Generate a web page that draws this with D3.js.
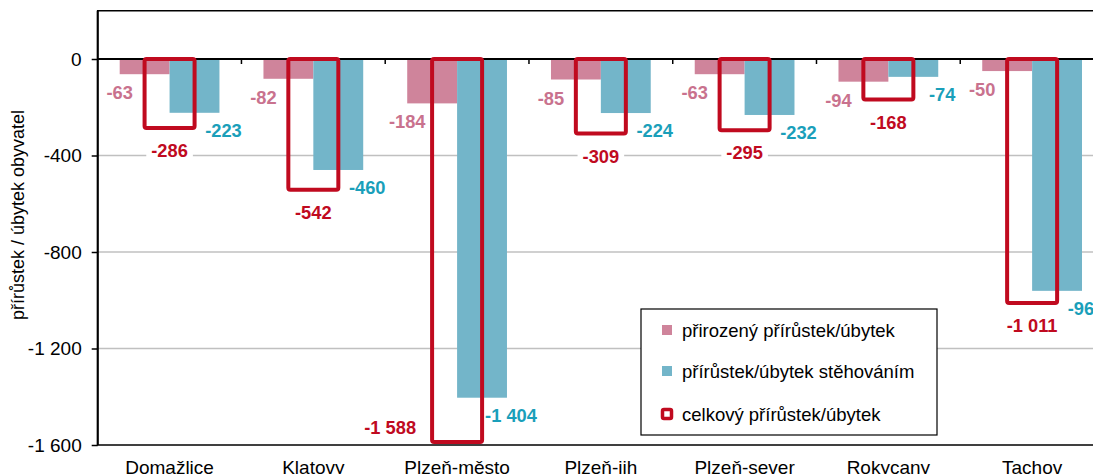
<!DOCTYPE html>
<html>
<head>
<meta charset="utf-8">
<script src="https://cdn.jsdelivr.net/npm/d3@7"></script>
<style>
  body { margin: 0; background: #fff; }
  svg { display: block; font-family: Arial, "Liberation Sans", sans-serif; }
</style>
</head>
<body>
<svg id="chart" width="1093" height="474"></svg>
<script>
var categories = ["Domažlice", "Klatovy", "Plzeň-město", "Plzeň-jih", "Plzeň-sever", "Rokycany", "Tachov"];
var natural = [-63, -82, -184, -85, -63, -94, -50];
var migration = [-223, -460, -1404, -224, -232, -74, -961];
var total = [-286, -542, -1588, -309, -295, -168, -1011];
var yTicks = [-1600, -1200, -800, -400, 0];
var legendLabels = ["přirozený přírůstek/úbytek", "přírůstek/úbytek stěhováním", "celkový přírůstek/úbytek"];

(function() {
  var PINK = "#cf849b", BLUE = "#73b5c9", RED = "#c00a1f";
  var PINK_TXT = "#c9728e", BLUE_TXT = "#1a9fba";

  var cz = d3.formatLocale({ decimal: ",", thousands: " ", grouping: [3], currency: ["", " Kč"], minus: "-" });
  var fmt = cz.format(",d");

  var pLeft = 97.7, pTop = 10.75, pBottom = 445, pRight = 1104;
  var svg = d3.select("#chart");

  var x = d3.scaleBand().domain(categories).range([pLeft, pRight]).padding(0);
  var y = d3.scaleLinear().domain([-1600, 200]).range([pBottom, pTop]);
  var inner = 22, barW = (x.bandwidth() - 2 * inner) / 2;

  // grid
  svg.append("g").selectAll("line")
    .data(yTicks.filter(function(d) { return d !== 0 && d !== -1600; }))
    .enter().append("line")
    .attr("x1", pLeft).attr("x2", pRight)
    .attr("y1", function(d) { return y(d); }).attr("y2", function(d) { return y(d); })
    .attr("stroke", "#c0c0c0").attr("stroke-width", 1.3);

  // bars
  var g = svg.append("g");
  g.selectAll(".nat").data(categories).enter().append("rect")
    .attr("x", function(d) { return x(d) + inner; })
    .attr("y", y(0))
    .attr("width", barW)
    .attr("height", function(d, i) { return y(natural[i]) - y(0); })
    .attr("fill", PINK);
  g.selectAll(".mig").data(categories).enter().append("rect")
    .attr("x", function(d) { return x(d) + inner + barW; })
    .attr("y", y(0))
    .attr("width", barW)
    .attr("height", function(d, i) { return y(migration[i]) - y(0); })
    .attr("fill", BLUE);

  // plot frame and zero axis
  svg.append("rect").attr("x", pLeft).attr("y", pTop).attr("width", pRight - pLeft).attr("height", pBottom - pTop)
    .attr("fill", "none").attr("stroke", "#000").attr("stroke-width", 1.5);
  svg.append("line").attr("x1", pLeft).attr("x2", pLeft).attr("y1", pTop).attr("y2", pBottom)
    .attr("stroke", "#000").attr("stroke-width", 2);
  svg.append("line").attr("x1", pLeft).attr("x2", pRight).attr("y1", y(0)).attr("y2", y(0))
    .attr("stroke", "#000").attr("stroke-width", 2);
  svg.append("g").selectAll("line").data(categories.slice(1)).enter().append("line")
    .attr("x1", function(d) { return x(d); }).attr("x2", function(d) { return x(d); })
    .attr("y1", y(0)).attr("y2", y(0) + 5)
    .attr("stroke", "#000").attr("stroke-width", 1.5);

  // y axis
  var yAxis = d3.axisLeft(y).tickValues(yTicks).tickSize(6).tickPadding(10).tickFormat(fmt);
  var ya = svg.append("g").attr("transform", "translate(" + pLeft + ",0)").call(yAxis);
  ya.select(".domain").remove();
  ya.selectAll(".tick line").attr("stroke", "#000").attr("stroke-width", 1.5);
  ya.selectAll(".tick text").attr("font-size", 19).attr("fill", "#000")
    .attr("font-family", "Arial, 'Liberation Sans', sans-serif");

  svg.append("text")
    .attr("transform", "translate(24,215) rotate(-90)")
    .attr("text-anchor", "middle").attr("font-size", 18).attr("fill", "#000")
    .text("přírůstek / úbytek obyvatel");

  // category labels
  svg.append("g").selectAll("text").data(categories).enter().append("text")
    .attr("x", function(d) { return x(d) + x.bandwidth() / 2; })
    .attr("y", 474)
    .attr("text-anchor", "middle").attr("font-size", 19).attr("fill", "#000")
    .text(function(d) { return d; });

  // total outline boxes
  var boxW = 50;
  svg.append("g").selectAll("rect").data(categories).enter().append("rect")
    .attr("x", function(d) { return x(d) + x.bandwidth() / 2 - boxW / 2; })
    .attr("y", y(0))
    .attr("width", boxW)
    .attr("height", function(d, i) { return y(total[i]) - y(0); })
    .attr("rx", 2)
    .attr("fill", "none").attr("stroke", RED).attr("stroke-width", 4);

  // value labels
  var lab = svg.append("g").attr("font-weight", "bold").attr("font-size", 18.3);
  lab.selectAll(".nl").data(categories).enter().append("text")
    .attr("x", function(d) { return x(d) + inner; })
    .attr("y", function(d, i) { return y(natural[i]) + 25; })
    .attr("text-anchor", "middle").attr("fill", PINK_TXT)
    .text(function(d, i) { return fmt(natural[i]); });
  lab.selectAll(".ml").data(categories).enter().append("text")
    .attr("x", function(d) { return x(d) + inner + 2 * barW + 4; })
    .attr("y", function(d, i) { return y(migration[i]) + 24; })
    .attr("text-anchor", "middle").attr("fill", BLUE_TXT)
    .text(function(d, i) { return fmt(migration[i]); });

  lab.selectAll(".tl").data(categories).enter().append("g").each(function(d, i) {
    var cx = x(d) + x.bandwidth() / 2, yy = y(total[i]) + 29, anchor = "middle";
    if (yy > pBottom - 10) { cx = cx - boxW / 2 - 16; yy = pBottom - 11; anchor = "end"; }
    var t = d3.select(this).append("text")
      .attr("x", cx).attr("y", yy).attr("text-anchor", anchor).attr("fill", RED)
      .text(fmt(total[i]));
    var b = t.node().getBBox();
    d3.select(this).insert("rect", "text")
      .attr("x", b.x - 5).attr("y", b.y + 2).attr("width", b.width + 10).attr("height", b.height - 4)
      .attr("fill", "#fff");
  });

  // legend
  var lg = svg.append("g").attr("transform", "translate(641,309)");
  lg.append("rect").attr("width", 296).attr("height", 126)
    .attr("fill", "#fff").attr("stroke", "#000").attr("stroke-width", 1.2);
  var rowsY = [21, 62, 105];
  lg.selectAll(".li").data(legendLabels).enter().append("text")
    .attr("x", 41).attr("y", function(d, i) { return rowsY[i] + 7; })
    .attr("font-size", 18.5).attr("fill", "#000")
    .text(function(d) { return d; });
  lg.append("rect").attr("x", 21).attr("y", rowsY[0] - 5).attr("width", 10).attr("height", 10).attr("fill", PINK);
  lg.append("rect").attr("x", 21).attr("y", rowsY[1] - 5).attr("width", 10).attr("height", 10).attr("fill", BLUE);
  lg.append("rect").attr("x", 21.5).attr("y", rowsY[2] - 4.5).attr("width", 9).attr("height", 9).attr("rx", 1.5)
    .attr("fill", "#fff").attr("stroke", RED).attr("stroke-width", 3.5);
})();
</script>
</body>
</html>
